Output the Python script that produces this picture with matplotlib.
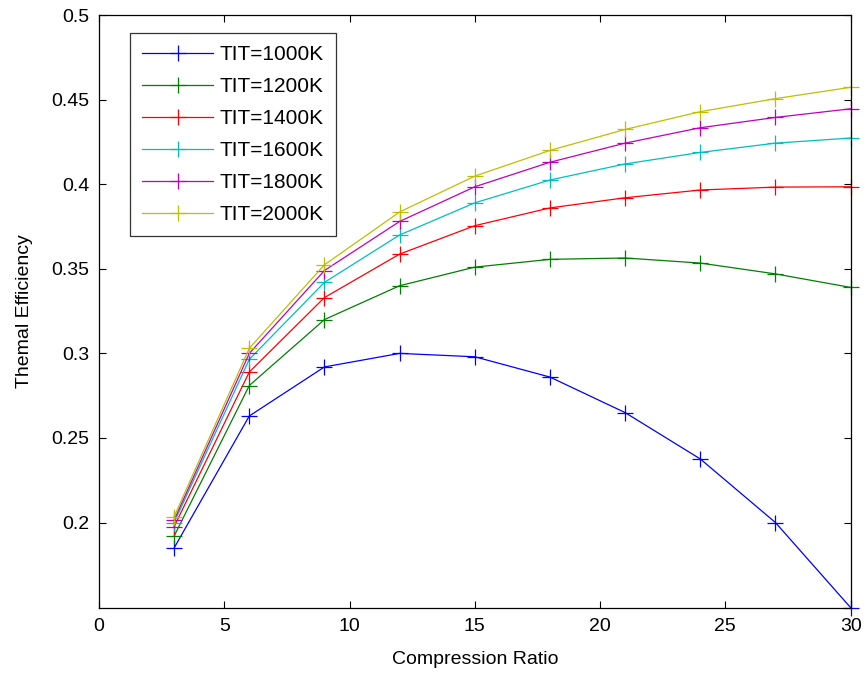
import numpy as np
import matplotlib.pyplot as plt

plt.rcParams['font.family'] = ['Liberation Sans', 'DejaVu Sans']

ratio = [3, 6, 9, 12, 15, 18, 21, 24, 27, 30]
labels = ["TIT=1000K", "TIT=1200K", "TIT=1400K", "TIT=1600K", "TIT=1800K", "TIT=2000K"]

eff_1000 = [0.185, 0.263, 0.292, 0.300, 0.298, 0.286, 0.265, 0.2376, 0.200, 0.1497]
eff_1200 = [0.192, 0.281, 0.320, 0.340, 0.351, 0.3556, 0.3564, 0.3534, 0.347, 0.339]
eff_1400 = [0.1976, 0.289, 0.333, 0.3587, 0.3755, 0.386, 0.392, 0.3966, 0.3983, 0.3985]
eff_1600 = [0.200, 0.2965, 0.342, 0.370, 0.389, 0.4025, 0.412, 0.4188, 0.4243, 0.4273]
eff_1800 = [0.2015, 0.300, 0.349, 0.378, 0.3985, 0.413, 0.4243, 0.4334, 0.4395, 0.4446]
eff_2000 = [0.2035, 0.303, 0.3524, 0.3836, 0.4048, 0.420, 0.4324, 0.4429, 0.4506, 0.4573]

colors = [(0, 0, 1), (0, 0.5, 0), (1, 0, 0), (0, 0.75, 0.75), (0.75, 0, 0.75), (0.75, 0.75, 0)]
series = [eff_1000, eff_1200, eff_1400, eff_1600, eff_1800, eff_2000]

fig = plt.figure(figsize=(8.68, 6.73), dpi=100)
ax = fig.add_axes([0.114, 0.0966, 0.866, 0.881])

for ys, c, lab in zip(series, colors, labels):
    ax.plot(ratio, ys, color=c, marker='+', markersize=12, markeredgewidth=0.9,
            linewidth=0.9, label=lab, clip_on=False)

ax.set_xlim(0, 30)
ax.set_ylim(0.1495, 0.5)
ax.set_xticks([0, 5, 10, 15, 20, 25, 30])
ax.set_yticks([0.2, 0.25, 0.3, 0.35, 0.4, 0.45, 0.5])
ax.set_yticklabels(["0.2", "0.25", "0.3", "0.35", "0.4", "0.45", "0.5"])
ax.tick_params(direction='in', top=True, right=True, labelsize=14, length=5, width=0.8, pad=7)
for s in ax.spines.values():
    s.set_linewidth(0.9)

ax.set_xlabel("Compression Ratio", fontsize=14, labelpad=12)
ax.set_ylabel("Themal Efficiency", fontsize=14, labelpad=13)

leg = ax.legend(loc='upper left', bbox_to_anchor=(0.041, 0.970), borderaxespad=0,
                fontsize=15, frameon=True, fancybox=False, handlelength=3.4,
                handletextpad=0.3, labelspacing=0.62, borderpad=0.6)
leg.get_frame().set_edgecolor('black')
leg.get_frame().set_linewidth(0.9)

fig.savefig("out.png", dpi=100)
